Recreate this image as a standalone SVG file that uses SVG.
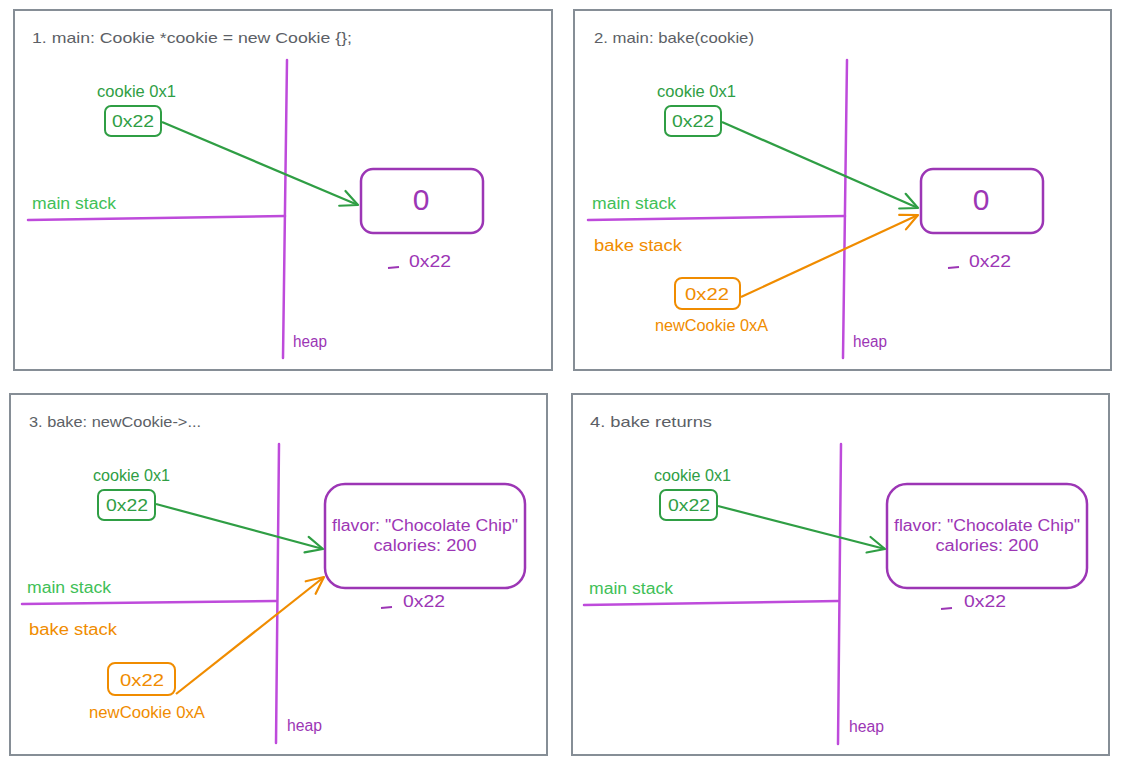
<svg xmlns="http://www.w3.org/2000/svg" width="1121" height="764" viewBox="0 0 1121 764">
<style>
text{font-family:"Liberation Sans","DejaVu Sans",sans-serif;font-size:16px}
.frame{fill:none;stroke:#868e96;stroke-width:2}
.title{fill:#5c5f66;font-size:15px}
.divider{fill:none;stroke:#be4bdb;stroke-width:2.5;stroke-linecap:round}
.ms{fill:#40c057}
.gr{fill:#2f9e44}
.or{fill:#f08c00}
.pu{fill:#9c36b5}
.gbox{fill:none;stroke:#2f9e44;stroke-width:2}
.obox{fill:none;stroke:#f08c00;stroke-width:2}
.hbox{fill:none;stroke:#9c36b5;stroke-width:2.5}
.dash{stroke:#9c36b5;stroke-width:2}
.garrow{fill:none;stroke:#2f9e44;stroke-width:2.2;marker-end:url(#ag)}
.oarrow{fill:none;stroke:#f08c00;stroke-width:2.2;marker-end:url(#ao)}
.mid{text-anchor:middle}
</style>
<defs>
<marker id="ag" markerUnits="userSpaceOnUse" markerWidth="24" markerHeight="24" refX="20" refY="12" orient="auto" overflow="visible">
<path d="M3,4 L20,12 L3,20" fill="none" stroke="#2f9e44" stroke-width="2.2" stroke-linecap="round" stroke-linejoin="round"/>
</marker>
<marker id="ao" markerUnits="userSpaceOnUse" markerWidth="24" markerHeight="24" refX="20" refY="12" orient="auto" overflow="visible">
<path d="M3,4 L20,12 L3,20" fill="none" stroke="#f08c00" stroke-width="2.2" stroke-linecap="round" stroke-linejoin="round"/>
</marker>
</defs>
<rect width="1121" height="764" fill="#ffffff"/>

<g id="panel1">
<rect class="frame" x="14" y="10" width="538" height="360"/>
<text class="title" x="32" y="43" textLength="320" lengthAdjust="spacingAndGlyphs">1. main: Cookie *cookie = new Cookie {};</text>
<path class="divider" d="M287,60 L283,358"/>
<path class="divider" d="M28,220 L285,216"/>
<text class="ms" x="32" y="209" textLength="84" lengthAdjust="spacingAndGlyphs">main stack</text>
<text class="pu" x="293" y="347" textLength="34" lengthAdjust="spacingAndGlyphs">heap</text>
<g id="p1-cookie">
<text class="gr" x="97" y="97" textLength="79" lengthAdjust="spacingAndGlyphs">cookie 0x1</text>
<rect class="gbox" x="105" y="106" width="56" height="30" rx="6"/>
<text class="gr mid" x="133" y="127" textLength="42" lengthAdjust="spacingAndGlyphs">0x22</text>
</g>
<g id="p1-heap">
<rect class="hbox" x="361" y="169" width="122" height="64" rx="12"/>
<text class="pu mid" x="421" y="210" style="font-size:30px">0</text>
<path class="dash" d="M388,268 L399,267"/>
<text class="pu" x="409" y="267" textLength="42" lengthAdjust="spacingAndGlyphs">0x22</text>
</g>
</g>

<g id="panel2">
<rect class="frame" x="574" y="10" width="537" height="360"/>
<text class="title" x="594" y="43" textLength="160" lengthAdjust="spacingAndGlyphs">2. main: bake(cookie)</text>
<path class="divider" d="M847,60 L843,358"/>
<path class="divider" d="M588,220 L845,216"/>
<text class="ms" x="592" y="209" textLength="84" lengthAdjust="spacingAndGlyphs">main stack</text>
<text class="or" x="594" y="251" textLength="88" lengthAdjust="spacingAndGlyphs">bake stack</text>
<text class="pu" x="853" y="347" textLength="34" lengthAdjust="spacingAndGlyphs">heap</text>
<g id="p2-cookie">
<text class="gr" x="657" y="97" textLength="79" lengthAdjust="spacingAndGlyphs">cookie 0x1</text>
<rect class="gbox" x="665" y="106" width="56" height="30" rx="6"/>
<text class="gr mid" x="693" y="127" textLength="42" lengthAdjust="spacingAndGlyphs">0x22</text>
</g>
<g id="p2-newcookie">
<rect class="obox" x="675" y="278" width="65" height="31" rx="7"/>
<text class="or mid" x="707" y="300" textLength="44" lengthAdjust="spacingAndGlyphs">0x22</text>
<text class="or" x="655" y="331" textLength="113" lengthAdjust="spacingAndGlyphs">newCookie 0xA</text>
</g>
<g id="p2-heap">
<rect class="hbox" x="921" y="169" width="122" height="64" rx="12"/>
<text class="pu mid" x="981" y="210" style="font-size:30px">0</text>
<path class="dash" d="M948,268 L959,267"/>
<text class="pu" x="969" y="267" textLength="42" lengthAdjust="spacingAndGlyphs">0x22</text>
</g>
</g>

<g id="panel3">
<rect class="frame" x="10" y="394" width="537" height="361"/>
<text class="title" x="29" y="427" textLength="172" lengthAdjust="spacingAndGlyphs">3. bake: newCookie-&gt;...</text>
<path class="divider" d="M279,444 L276,743"/>
<path class="divider" d="M22,604 L276,601"/>
<text class="ms" x="27" y="593" textLength="84" lengthAdjust="spacingAndGlyphs">main stack</text>
<text class="or" x="29" y="635" textLength="88" lengthAdjust="spacingAndGlyphs">bake stack</text>
<text class="pu" x="287" y="731" textLength="35" lengthAdjust="spacingAndGlyphs">heap</text>
<g id="p3-cookie">
<text class="gr" x="93" y="481" textLength="77" lengthAdjust="spacingAndGlyphs">cookie 0x1</text>
<rect class="gbox" x="98" y="490" width="57" height="30" rx="6"/>
<text class="gr mid" x="127" y="511" textLength="42" lengthAdjust="spacingAndGlyphs">0x22</text>
</g>
<g id="p3-newcookie">
<rect class="obox" x="108" y="663" width="67" height="32" rx="7"/>
<text class="or mid" x="142" y="686" textLength="44" lengthAdjust="spacingAndGlyphs">0x22</text>
<text class="or" x="89" y="718" textLength="116" lengthAdjust="spacingAndGlyphs">newCookie 0xA</text>
</g>
<g id="p3-heap">
<rect class="hbox" x="325" y="484" width="200" height="104" rx="20"/>
<text class="pu mid" x="425" y="531" textLength="186" lengthAdjust="spacingAndGlyphs">flavor: "Chocolate Chip"</text>
<text class="pu mid" x="425" y="551" textLength="103" lengthAdjust="spacingAndGlyphs">calories: 200</text>
<path class="dash" d="M381,608 L392,607"/>
<text class="pu" x="403" y="607" textLength="42" lengthAdjust="spacingAndGlyphs">0x22</text>
</g>
</g>

<g id="panel4">
<rect class="frame" x="572" y="394" width="537" height="361"/>
<text class="title" x="590" y="427" textLength="122" lengthAdjust="spacingAndGlyphs">4. bake returns</text>
<path class="divider" d="M841,444 L838,744"/>
<path class="divider" d="M584,605 L838,601"/>
<text class="ms" x="589" y="594" textLength="84" lengthAdjust="spacingAndGlyphs">main stack</text>
<text class="pu" x="849" y="732" textLength="35" lengthAdjust="spacingAndGlyphs">heap</text>
<g id="p4-cookie">
<text class="gr" x="654" y="481" textLength="77" lengthAdjust="spacingAndGlyphs">cookie 0x1</text>
<rect class="gbox" x="660" y="490" width="57" height="30" rx="6"/>
<text class="gr mid" x="689" y="511" textLength="42" lengthAdjust="spacingAndGlyphs">0x22</text>
</g>
<g id="p4-heap">
<rect class="hbox" x="887" y="484" width="200" height="104" rx="20"/>
<text class="pu mid" x="987" y="531" textLength="186" lengthAdjust="spacingAndGlyphs">flavor: "Chocolate Chip"</text>
<text class="pu mid" x="987" y="551" textLength="103" lengthAdjust="spacingAndGlyphs">calories: 200</text>
<path class="dash" d="M941,609 L952,608"/>
<text class="pu" x="964" y="607" textLength="42" lengthAdjust="spacingAndGlyphs">0x22</text>
</g>
</g>

<g id="connectors">
<path class="garrow" d="M162,122 L358,205"/>
<path class="garrow" d="M722,122 L918,208"/>
<path class="oarrow" d="M741,297 L918,215"/>
<path class="garrow" d="M156,504 L323,549"/>
<path class="oarrow" d="M176,694 L324,577"/>
<path class="garrow" d="M718,506 L885,549"/>
</g>
</svg>
